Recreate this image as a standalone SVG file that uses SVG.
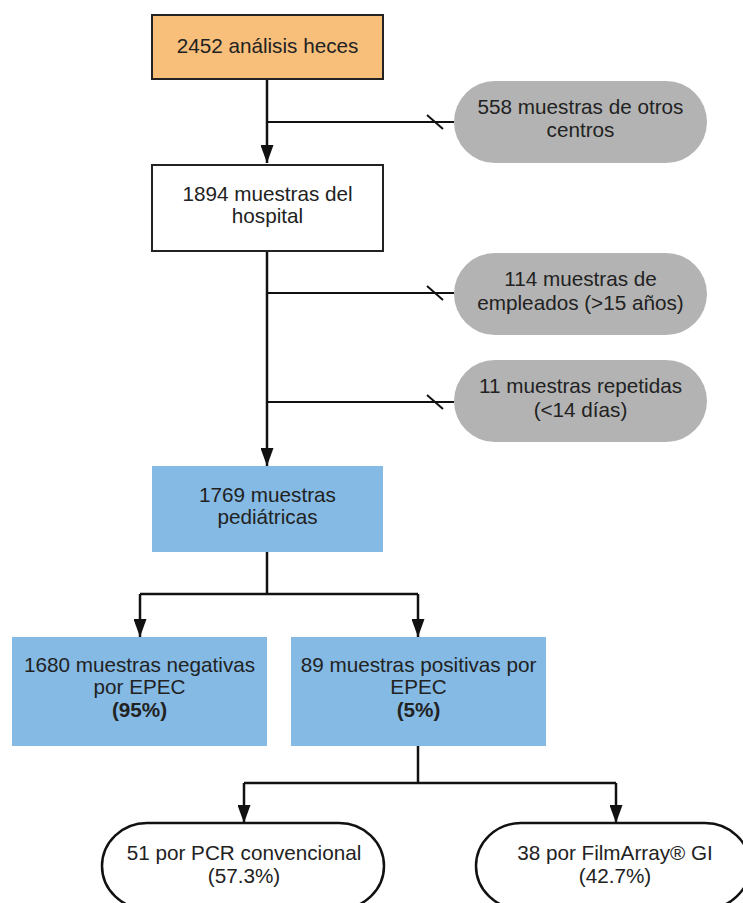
<svg xmlns="http://www.w3.org/2000/svg" width="743" height="903" viewBox="0 0 743 903">
<style>
text{font-family:"Liberation Sans",Arial,sans-serif;font-size:20.7px;fill:#222;text-anchor:middle}
.b{font-weight:bold}
.ln{stroke:#111;stroke-width:2.5;fill:none}
.hl{stroke:#111;stroke-width:2;fill:none}
.gray{fill:#B3B3B3}
.blue{fill:#84BAE4}
</style>
<defs>
<marker id="ah" markerUnits="userSpaceOnUse" markerWidth="18" markerHeight="13" refX="18" refY="6.5" orient="auto">
<path d="M0,0 L18,6.5 L0,13 z" fill="#111"/>
</marker>
</defs>
<rect width="743" height="903" fill="#fff"/>
<g id="connectors">
<path class="ln" d="M267,79 V163" marker-end="url(#ah)"/>
<path class="hl" d="M267,122 H454"/>
<path class="hl" d="M427,115 L443,129"/>
<path class="ln" d="M267,251 V466" marker-end="url(#ah)"/>
<path class="hl" d="M267,293 H454"/>
<path class="hl" d="M427,286 L443,300"/>
<path class="hl" d="M267,402 H454"/>
<path class="hl" d="M427,395 L443,409"/>
<path class="ln" d="M267,552 V594"/>
<path class="ln" d="M140,594 H418"/>
<path class="ln" d="M140,594 V637" marker-end="url(#ah)"/>
<path class="ln" d="M418,594 V637" marker-end="url(#ah)"/>
<path class="ln" d="M418,746 V783"/>
<path class="ln" d="M244,783 H616"/>
<path class="ln" d="M244,783 V823" marker-end="url(#ah)"/>
<path class="ln" d="M616,783 V823" marker-end="url(#ah)"/>
</g>
<g id="n-total">
<rect x="152" y="15" width="231" height="64" fill="#F8BF7B" stroke="#222" stroke-width="2"/>
<text x="267.5" y="53">2452 análisis heces</text>
</g>
<g id="n-hospital">
<rect x="152" y="165" width="231" height="86" fill="#fff" stroke="#222" stroke-width="2"/>
<text x="267.5" y="201">1894 muestras del</text>
<text x="267.5" y="223">hospital</text>
</g>
<g id="n-otros">
<rect class="gray" x="454" y="81" width="253" height="82" rx="41"/>
<text x="580.5" y="114">558 muestras de otros</text>
<text x="580.5" y="137">centros</text>
</g>
<g id="n-empleados">
<rect class="gray" x="454" y="253" width="253" height="82" rx="41"/>
<text x="580.5" y="286">114 muestras de</text>
<text x="580.5" y="310">empleados (&gt;15 años)</text>
</g>
<g id="n-repetidas">
<rect class="gray" x="454" y="360" width="253" height="82" rx="41"/>
<text x="580.5" y="393">11 muestras repetidas</text>
<text x="580.5" y="417">(&lt;14 días)</text>
</g>
<g id="n-pediatricas">
<rect class="blue" x="152" y="466" width="231" height="86"/>
<text x="267.5" y="502">1769 muestras</text>
<text x="267.5" y="524">pediátricas</text>
</g>
<g id="n-negativas">
<rect class="blue" x="12" y="637" width="255" height="109"/>
<text x="139.5" y="672">1680 muestras negativas</text>
<text x="139.5" y="694">por EPEC</text>
<text class="b" x="139.5" y="717">(95%)</text>
</g>
<g id="n-positivas">
<rect class="blue" x="291" y="637" width="255" height="109"/>
<text x="418.5" y="672">89 muestras positivas por</text>
<text x="418.5" y="694">EPEC</text>
<text class="b" x="418.5" y="717">(5%)</text>
</g>
<g id="n-pcr">
<rect x="102" y="823" width="282" height="86" rx="45" ry="43" fill="#fff" stroke="#111" stroke-width="2.5"/>
<text x="244" y="860">51 por PCR convencional</text>
<text x="244" y="883">(57.3%)</text>
</g>
<g id="n-filmarray">
<rect x="476" y="823" width="274" height="86" rx="45" ry="43" fill="#fff" stroke="#111" stroke-width="2.5"/>
<text x="615" y="860">38 por FilmArray® GI</text>
<text x="615" y="883">(42.7%)</text>
</g>
</svg>
